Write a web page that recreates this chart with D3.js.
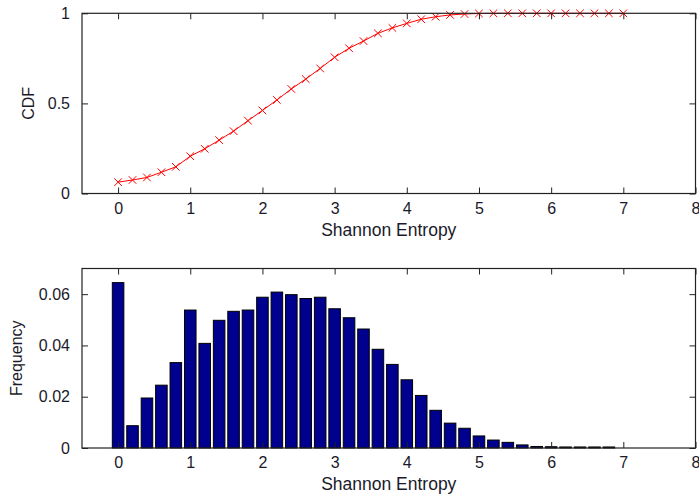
<!DOCTYPE html>
<html>
<head>
<meta charset="utf-8">
<script src="https://cdn.jsdelivr.net/npm/d3@7"></script>
<style>
  html, body { margin: 0; padding: 0; background: #fff; }
  svg { display: block; }
  text { font-family: Arial, "Liberation Sans", sans-serif; fill: #1a1a2a; }
</style>
</head>
<body>
<svg id="chart" width="699" height="498"></svg>
<script>
// ---- data ----
const binCenters = [0, 0.2, 0.4, 0.6, 0.8, 1.0, 1.2, 1.4, 1.6, 1.8, 2.0, 2.2, 2.4, 2.6, 2.8,
  3.0, 3.2, 3.4, 3.6, 3.8, 4.0, 4.2, 4.4, 4.6, 4.8, 5.0, 5.2, 5.4, 5.6, 5.8, 6.0, 6.2, 6.4, 6.6, 6.8];
const frequency = [0.0645, 0.0087, 0.0195, 0.0245, 0.0333, 0.0538, 0.0408, 0.0498, 0.0533, 0.0538,
  0.0588, 0.0608, 0.0598, 0.0583, 0.0588, 0.0543, 0.0508, 0.0464, 0.0385, 0.0326, 0.0266,
  0.0205, 0.0147, 0.0097, 0.0077, 0.0047, 0.0031, 0.0022, 0.0012, 0.0006, 0.0005, 0.0004,
  0.0004, 0.0004, 0.0004];
const cdfX = [0, 0.2, 0.4, 0.6, 0.8, 1.0, 1.2, 1.4, 1.6, 1.8, 2.0, 2.2, 2.4, 2.6, 2.8, 3.0,
  3.2, 3.4, 3.6, 3.8, 4.0, 4.2, 4.4, 4.6, 4.8, 5.0, 5.2, 5.4, 5.6, 5.8, 6.0, 6.2, 6.4, 6.6, 6.8, 7.0];
const cdfY = [0.063, 0.075, 0.089, 0.118, 0.148, 0.207, 0.248, 0.296, 0.346, 0.404, 0.461,
  0.519, 0.580, 0.635, 0.694, 0.756, 0.806, 0.846, 0.889, 0.919, 0.944, 0.967, 0.981,
  0.991, 0.996, 0.999, 1, 1, 1, 1, 1, 1, 1, 1, 1, 1];
const xTicks = [0, 1, 2, 3, 4, 5, 6, 7, 8];
const cdfTicks = [0, 0.5, 1];
const freqTicks = [0, 0.02, 0.04, 0.06];
const xLabel = "Shannon Entropy";
const cdfLabel = "CDF";
const freqLabel = "Frequency";

// ---- layout ----
const svg = d3.select("#chart");
const left = 82, right = 695.5;
const fontSize = 16;
const tickLen = 6;

const x = d3.scaleLinear().domain([-0.5, 8]).range([left, right]);

function panel(top, bottom, yScaleDomain, yTicks, yFmt, yLabel, yLabelX) {
  const y = d3.scaleLinear().domain(yScaleDomain).range([bottom, top]);
  const g = svg.append("g");
  return { g, y, top, bottom, yTicks, yFmt, yLabel, yLabelX };
}

function drawAxes(p) {
  const { g, y, top, bottom } = p;
  const bottomAxis = d3.axisBottom(x).tickValues(xTicks).tickSize(-tickLen).tickPadding(9)
    .tickFormat(d3.format("d"));
  const topAxis = d3.axisTop(x).tickValues(xTicks).tickSize(-tickLen).tickFormat("");
  const leftAxis = d3.axisLeft(y).tickValues(p.yTicks).tickSize(-tickLen).tickPadding(12)
    .tickFormat(p.yFmt);
  const rightAxis = d3.axisRight(y).tickValues(p.yTicks).tickSize(-tickLen).tickFormat("");

  const ab = g.append("g").attr("transform", `translate(0,${bottom})`).call(bottomAxis);
  const at = g.append("g").attr("transform", `translate(0,${top})`).call(topAxis);
  const al = g.append("g").attr("transform", `translate(${left},0)`).call(leftAxis);
  const ar = g.append("g").attr("transform", `translate(${right},0)`).call(rightAxis);
  [ab, at, al, ar].forEach(a => {
    a.select(".domain").remove();
    a.selectAll("line").attr("stroke", "#222").attr("stroke-width", 1);
    a.selectAll("text").attr("font-size", fontSize).attr("font-family", "Arial, 'Liberation Sans', sans-serif")
      .attr("fill", "#1a1a2a");
  });
  g.append("rect").attr("x", left).attr("y", top).attr("width", right - left).attr("height", bottom - top)
    .attr("fill", "none").attr("stroke", "#222").attr("stroke-width", 1.2);

  g.append("text").attr("x", (left + right) / 2).attr("y", bottom + 42)
    .attr("text-anchor", "middle").attr("font-size", 17.5).text(xLabel);
  g.append("text")
    .attr("transform", `translate(${p.yLabelX},${(top + bottom) / 2}) rotate(-90)`)
    .attr("text-anchor", "middle").attr("font-size", fontSize).text(p.yLabel);
}

// ---- top panel: CDF ----
const pTop = panel(13.3, 193.5, [0, 1], cdfTicks, d3.format("~g"), cdfLabel, 34);
const line = d3.line().x((d, i) => x(cdfX[i])).y(d => pTop.y(d));
pTop.g.append("path").datum(cdfY).attr("d", line)
  .attr("fill", "none").attr("stroke", "#ff0000").attr("stroke-width", 1);
const m = 3.8;
pTop.g.selectAll("path.mk").data(cdfY).join("path").attr("class", "mk")
  .attr("d", (d, i) => {
    const cx = x(cdfX[i]), cy = pTop.y(d);
    return `M${cx - m},${cy - m}L${cx + m},${cy + m}M${cx - m},${cy + m}L${cx + m},${cy - m}`;
  })
  .attr("stroke", "#ff0000").attr("stroke-width", 1).attr("fill", "none");
drawAxes(pTop);

// ---- bottom panel: Frequency histogram ----
const fmtFreq = d => d === 0 ? "0" : d3.format(".2f")(d);
const pBot = panel(268.5, 448, [0, 0.07], freqTicks, fmtFreq, freqLabel, 22);
const bw = x(0.16) - x(0);
pBot.g.selectAll("rect.bar").data(frequency).join("rect").attr("class", "bar")
  .attr("x", (d, i) => x(binCenters[i]) - bw / 2)
  .attr("y", d => pBot.y(d))
  .attr("width", bw)
  .attr("height", d => pBot.y(0) - pBot.y(d))
  .attr("fill", "#00008f").attr("stroke", "#000").attr("stroke-width", 1);
drawAxes(pBot);
</script>
</body>
</html>
